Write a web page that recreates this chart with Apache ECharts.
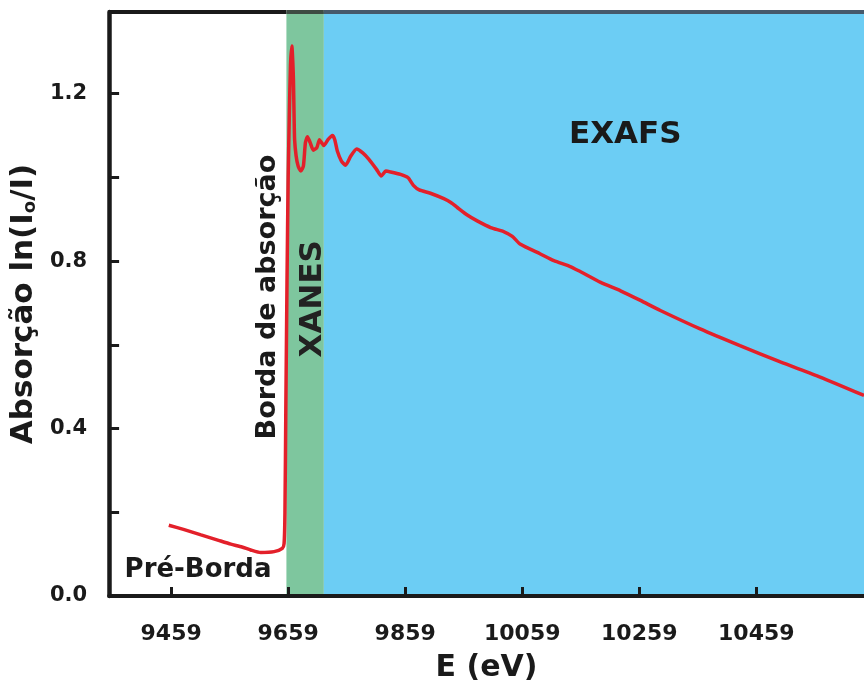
<!DOCTYPE html>
<html>
<head>
<meta charset="utf-8">
<script src="https://cdn.jsdelivr.net/npm/echarts@6/dist/echarts.min.js"></script>
<style>
  html, body { margin: 0; padding: 0; background: #ffffff; }
  #chart { width: 864px; height: 688px; }
</style>
</head>
<body>
<div id="chart"></div>
<script>
// X-ray absorption spectrum: energy (eV) and absorption ln(I0/I)
const energy = [
  9455, 9480, 9510, 9540, 9561, 9580, 9595, 9612, 9635, 9649,
  9652, 9653.5, 9655, 9657, 9659, 9661, 9663, 9665.3, 9667, 9668,
  9669, 9670, 9672.6, 9676, 9680.6, 9685, 9688.5, 9692, 9696.6, 9702,
  9708, 9712.5, 9716, 9720, 9727, 9734.6, 9738.6, 9743, 9750, 9757,
  9766, 9776, 9786, 9797, 9810, 9818, 9826, 9834, 9851, 9864,
  9873, 9883, 9902, 9925, 9937, 9948, 9965, 9982, 10005, 10028,
  10042, 10056, 10090, 10113, 10141, 10158, 10193, 10227, 10261, 10295,
  10363, 10431, 10500, 10568, 10643
];
const absorption = [
  0.169, 0.159, 0.146, 0.133, 0.124, 0.117, 0.110, 0.104, 0.106, 0.114,
  0.125, 0.20, 0.45, 0.75, 1.00, 1.15, 1.27, 1.314, 1.273, 1.233,
  1.154, 1.090, 1.051, 1.027, 1.015, 1.027, 1.083, 1.097, 1.083, 1.065,
  1.071, 1.090, 1.083, 1.076, 1.090, 1.100, 1.090, 1.063, 1.039, 1.029,
  1.051, 1.068, 1.059, 1.043, 1.019, 1.003, 1.015, 1.013, 1.007, 0.999,
  0.981, 0.970, 0.962, 0.949, 0.940, 0.928, 0.910, 0.896, 0.880, 0.870,
  0.859, 0.840, 0.817, 0.801, 0.787, 0.775, 0.749, 0.729, 0.706, 0.682,
  0.638, 0.598, 0.559, 0.523, 0.479
];

// Axis ranges and tick positions
const xRange = [9353, 10643];
const yRange = [0, 1.395];
const xTickValues = [9459, 9659, 9859, 10059, 10259, 10459];
const yTickValues = [0, 0.2, 0.4, 0.6, 0.8, 1.0, 1.2];
const yLabelValues = [0, 0.4, 0.8, 1.2];

// Spectral regions
const xanesRange = [9656, 9720];
const exafsRange = [9720, 10643];

// Text annotations, anchored in data coordinates
const annotationText = ['EXAFS', 'XANES', 'Borda de absorção', 'Pré-Borda'];
const annotationAt = [[10235, 1.102], [9702, 0.71], [9624, 0.714], [9505, 0.062]];

const FONT = 'DejaVu Sans';
const INK = '#1a1a1a';
const annotationStyle = [
  { size: 31, vertical: false, color: INK },
  { size: 31, vertical: true, color: '#222222' },
  { size: 27, vertical: true, color: INK },
  { size: 26, vertical: false, color: INK }
];

const chart = echarts.init(document.getElementById('chart'), null, { renderer: 'canvas' });

const baseText = { fontFamily: FONT, fontWeight: 'bold', color: INK };

const option = {
  animation: false,
  backgroundColor: '#ffffff',
  grid: { left: 108, right: 0, top: 12, bottom: 90 },
  xAxis: {
    type: 'value',
    min: xRange[0],
    max: xRange[1],
    z: 5,
    name: 'E (eV)',
    nameLocation: 'middle',
    nameGap: 57,
    nameTextStyle: Object.assign({}, baseText, { fontSize: 30 }),
    axisLine: { show: true, lineStyle: { color: INK, width: 4 } },
    axisTick: { show: true, inside: true, length: 9, customValues: xTickValues,
                lineStyle: { color: INK, width: 3 } },
    axisLabel: Object.assign({}, baseText, {
      fontSize: 22, margin: 27, customValues: xTickValues,
      formatter: v => String(v)
    }),
    splitLine: { show: false }
  },
  yAxis: {
    type: 'value',
    min: yRange[0],
    max: yRange[1],
    z: 5,
    name: 'Absorção ln(I{sub|o}/I)',
    nameLocation: 'middle',
    nameGap: 63,
    nameTextStyle: Object.assign({}, baseText, {
      fontSize: 31,
      rich: { sub: Object.assign({}, baseText, { fontSize: 18, verticalAlign: 'bottom' }) }
    }),
    axisLine: { show: true, lineStyle: { color: INK, width: 4.5 } },
    axisTick: { show: true, inside: true, length: 10, customValues: yTickValues,
                lineStyle: { color: INK, width: 3 } },
    axisLabel: Object.assign({}, baseText, {
      fontSize: 21, margin: 22, customValues: yLabelValues,
      padding: [5, 0, 0, 0],
      formatter: v => v.toFixed(1)
    }),
    splitLine: { show: false }
  },
  series: [
    {
      // shaded XANES / EXAFS regions
      type: 'line',
      data: [],
      z: 1,
      silent: true,
      markArea: {
        silent: true,
        data: [
          [{ xAxis: xanesRange[0], itemStyle: { color: '#7ec69e', opacity: 1 } }, { xAxis: xanesRange[1] }],
          [{ xAxis: exafsRange[0], itemStyle: { color: '#6ccdf4', opacity: 1 } }, { xAxis: exafsRange[1] }]
        ]
      }
    },
    {
      type: 'line',
      data: energy.map((e, i) => [e, absorption[i]]),
      z: 3,
      symbol: 'none',
      showSymbol: false,
      smooth: 0.2,
      silent: true,
      lineStyle: { color: '#e3202a', width: 3.5 },
      markLine: {
        silent: true,
        symbol: ['none', 'none'],
        label: { show: false },
        emphasis: { disabled: true },
        data: [
          [{ coord: [xRange[0], yRange[1]], lineStyle: { color: INK, width: 4, type: 'solid' } }, { coord: [xanesRange[0], yRange[1]] }],
          [{ coord: [xanesRange[0], yRange[1]], lineStyle: { color: '#3e4c43', width: 4, type: 'solid' } }, { coord: [xanesRange[1], yRange[1]] }],
          [{ coord: [exafsRange[0], yRange[1]], lineStyle: { color: '#46596b', width: 4, type: 'solid' } }, { coord: [exafsRange[1], yRange[1]] }]
        ]
      }
    }
  ]
};

chart.setOption(option);

// Region labels placed from data coordinates
const graphics = annotationText.map((text, i) => {
  const p = chart.convertToPixel({ gridIndex: 0 }, annotationAt[i]);
  const s = annotationStyle[i];
  return {
    type: 'text',
    x: p[0],
    y: p[1],
    rotation: s.vertical ? Math.PI / 2 : 0,
    z: 10,
    silent: true,
    style: {
      text: text,
      fill: s.color,
      fontFamily: FONT,
      fontWeight: 'bold',
      fontSize: s.size,
      font: 'bold ' + s.size + 'px "' + FONT + '"',
      align: 'center',
      verticalAlign: 'middle',
      textAlign: 'center',
      textVerticalAlign: 'middle'
    }
  };
});
chart.setOption({ graphic: graphics });
</script>
</body>
</html>
